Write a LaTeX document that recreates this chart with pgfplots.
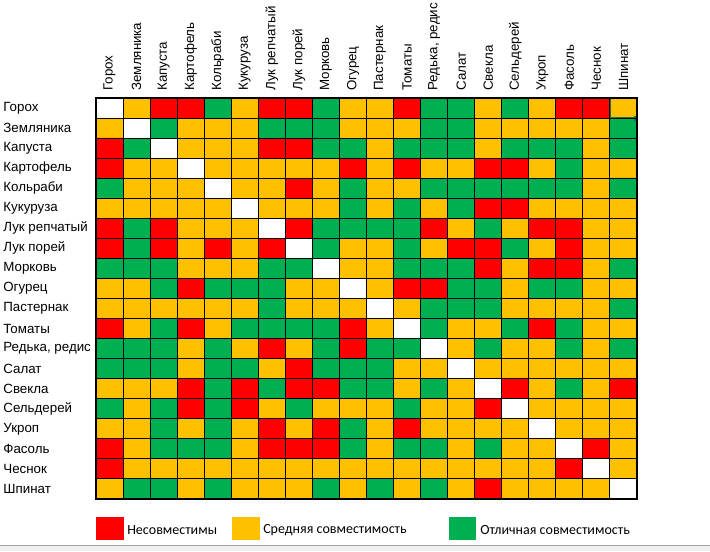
\documentclass[border=0pt]{standalone}
\usepackage{pgfplots}
\pgfplotsset{compat=1.18}
\usepackage{fontspec}
\setmainfont{Liberation Sans}
\newfontfamily\legfont{Carlito}
\definecolor{cR}{RGB}{255,0,0}
\definecolor{cY}{RGB}{255,192,0}
\definecolor{cG}{RGB}{0,176,80}
\definecolor{selG}{RGB}{33,115,70}
\begin{document}
\begin{tikzpicture}
\path[use as bounding box] (0pt,0pt) rectangle (532.5pt,413.25pt);
\fill[white] (0pt,0pt) rectangle (532.5pt,413.25pt);
\begin{axis}[
  at={(274.875pt,189.375pt)}, anchor=center,
  scale only axis, width=405.75pt, height=300.75pt,
  xmin=-0.5, xmax=19.5, ymin=-0.5, ymax=19.5, y dir=reverse,
  colormap={excel}{rgb255=(255,255,255) rgb255=(255,0,0) rgb255=(255,192,0) rgb255=(0,176,80)},
  colormap access=direct,
  xtick={0,...,19}, ytick={0,...,19},
  xticklabels={Горох,Земляника,Капуста,Картофель,Кольраби,Кукуруза,Лук репчатый,Лук порей,Морковь,Огурец,Пастернак,Томаты,{Редька, редис},Салат,Свекла,Сельдерей,Укроп,Фасоль,Чеснок,Шпинат},
  yticklabels={Горох,Земляника,Капуста,Картофель,Кольраби,Кукуруза,Лук репчатый,Лук порей,Морковь,Огурец,Пастернак,Томаты,{Редька, редис},Салат,Свекла,Сельдерей,Укроп,Фасоль,Чеснок,Шпинат},
  xticklabel pos=upper,
  major tick length=0pt, minor tick length=0pt,
  minor xtick={-0.5,0.5,...,19.5}, minor ytick={-0.5,0.5,...,19.5},
  xminorgrids, yminorgrids,
  minor grid style={black, line width=0.8pt},
  axis line style={black, line width=0.8pt},
  axis on top,
  ticklabel style={font=\fontsize{10}{12}\selectfont, text=black},
  xticklabel style={rotate=90, anchor=west, xshift=2pt},
  yticklabel style={anchor=west, xshift=-73pt},
]
\addplot[matrix plot*, mesh/cols=20, point meta=explicit] coordinates {
(0,0)[0] (1,0)[2] (2,0)[1] (3,0)[1] (4,0)[3] (5,0)[2] (6,0)[1] (7,0)[1] (8,0)[3] (9,0)[2] (10,0)[2] (11,0)[1] (12,0)[3] (13,0)[3] (14,0)[2] (15,0)[3] (16,0)[2] (17,0)[1] (18,0)[1] (19,0)[2]

(0,1)[2] (1,1)[0] (2,1)[3] (3,1)[2] (4,1)[2] (5,1)[2] (6,1)[3] (7,1)[3] (8,1)[3] (9,1)[2] (10,1)[2] (11,1)[2] (12,1)[3] (13,1)[3] (14,1)[2] (15,1)[2] (16,1)[2] (17,1)[2] (18,1)[2] (19,1)[3]

(0,2)[1] (1,2)[3] (2,2)[0] (3,2)[2] (4,2)[2] (5,2)[2] (6,2)[1] (7,2)[1] (8,2)[3] (9,2)[3] (10,2)[2] (11,2)[3] (12,2)[3] (13,2)[3] (14,2)[2] (15,2)[3] (16,2)[3] (17,2)[3] (18,2)[2] (19,2)[3]

(0,3)[1] (1,3)[2] (2,3)[2] (3,3)[0] (4,3)[2] (5,3)[2] (6,3)[2] (7,3)[2] (8,3)[2] (9,3)[1] (10,3)[2] (11,3)[1] (12,3)[2] (13,3)[2] (14,3)[1] (15,3)[1] (16,3)[2] (17,3)[3] (18,3)[2] (19,3)[2]

(0,4)[3] (1,4)[2] (2,4)[2] (3,4)[2] (4,4)[0] (5,4)[2] (6,4)[2] (7,4)[1] (8,4)[2] (9,4)[3] (10,4)[2] (11,4)[2] (12,4)[3] (13,4)[3] (14,4)[3] (15,4)[3] (16,4)[3] (17,4)[3] (18,4)[2] (19,4)[3]

(0,5)[2] (1,5)[2] (2,5)[2] (3,5)[2] (4,5)[2] (5,5)[0] (6,5)[2] (7,5)[2] (8,5)[2] (9,5)[3] (10,5)[2] (11,5)[3] (12,5)[2] (13,5)[3] (14,5)[1] (15,5)[1] (16,5)[2] (17,5)[2] (18,5)[2] (19,5)[2]

(0,6)[1] (1,6)[3] (2,6)[1] (3,6)[2] (4,6)[2] (5,6)[2] (6,6)[0] (7,6)[1] (8,6)[3] (9,6)[3] (10,6)[3] (11,6)[3] (12,6)[1] (13,6)[2] (14,6)[3] (15,6)[2] (16,6)[1] (17,6)[1] (18,6)[2] (19,6)[2]

(0,7)[1] (1,7)[3] (2,7)[1] (3,7)[2] (4,7)[1] (5,7)[2] (6,7)[1] (7,7)[0] (8,7)[3] (9,7)[2] (10,7)[2] (11,7)[3] (12,7)[2] (13,7)[1] (14,7)[1] (15,7)[3] (16,7)[2] (17,7)[1] (18,7)[2] (19,7)[2]

(0,8)[3] (1,8)[3] (2,8)[3] (3,8)[2] (4,8)[2] (5,8)[2] (6,8)[3] (7,8)[3] (8,8)[0] (9,8)[2] (10,8)[2] (11,8)[3] (12,8)[3] (13,8)[3] (14,8)[1] (15,8)[2] (16,8)[1] (17,8)[1] (18,8)[2] (19,8)[3]

(0,9)[2] (1,9)[2] (2,9)[3] (3,9)[1] (4,9)[3] (5,9)[3] (6,9)[3] (7,9)[2] (8,9)[2] (9,9)[0] (10,9)[2] (11,9)[1] (12,9)[1] (13,9)[3] (14,9)[3] (15,9)[2] (16,9)[3] (17,9)[3] (18,9)[2] (19,9)[2]

(0,10)[2] (1,10)[2] (2,10)[2] (3,10)[2] (4,10)[2] (5,10)[2] (6,10)[3] (7,10)[2] (8,10)[2] (9,10)[2] (10,10)[0] (11,10)[2] (12,10)[3] (13,10)[3] (14,10)[3] (15,10)[2] (16,10)[2] (17,10)[2] (18,10)[2] (19,10)[3]

(0,11)[1] (1,11)[2] (2,11)[3] (3,11)[1] (4,11)[2] (5,11)[3] (6,11)[3] (7,11)[3] (8,11)[3] (9,11)[1] (10,11)[2] (11,11)[0] (12,11)[3] (13,11)[2] (14,11)[2] (15,11)[3] (16,11)[1] (17,11)[3] (18,11)[2] (19,11)[2]

(0,12)[3] (1,12)[3] (2,12)[3] (3,12)[2] (4,12)[3] (5,12)[2] (6,12)[1] (7,12)[2] (8,12)[3] (9,12)[1] (10,12)[3] (11,12)[3] (12,12)[0] (13,12)[2] (14,12)[3] (15,12)[2] (16,12)[2] (17,12)[3] (18,12)[2] (19,12)[3]

(0,13)[3] (1,13)[3] (2,13)[3] (3,13)[2] (4,13)[3] (5,13)[3] (6,13)[2] (7,13)[1] (8,13)[3] (9,13)[3] (10,13)[3] (11,13)[2] (12,13)[2] (13,13)[0] (14,13)[2] (15,13)[2] (16,13)[2] (17,13)[2] (18,13)[2] (19,13)[2]

(0,14)[2] (1,14)[2] (2,14)[2] (3,14)[1] (4,14)[3] (5,14)[1] (6,14)[3] (7,14)[1] (8,14)[1] (9,14)[3] (10,14)[3] (11,14)[2] (12,14)[3] (13,14)[2] (14,14)[0] (15,14)[1] (16,14)[2] (17,14)[3] (18,14)[2] (19,14)[1]

(0,15)[3] (1,15)[2] (2,15)[3] (3,15)[1] (4,15)[3] (5,15)[1] (6,15)[2] (7,15)[3] (8,15)[2] (9,15)[2] (10,15)[2] (11,15)[3] (12,15)[2] (13,15)[2] (14,15)[1] (15,15)[0] (16,15)[2] (17,15)[2] (18,15)[2] (19,15)[2]

(0,16)[2] (1,16)[2] (2,16)[3] (3,16)[2] (4,16)[3] (5,16)[2] (6,16)[1] (7,16)[2] (8,16)[1] (9,16)[3] (10,16)[2] (11,16)[1] (12,16)[2] (13,16)[2] (14,16)[2] (15,16)[2] (16,16)[0] (17,16)[2] (18,16)[2] (19,16)[2]

(0,17)[1] (1,17)[2] (2,17)[3] (3,17)[3] (4,17)[3] (5,17)[2] (6,17)[1] (7,17)[1] (8,17)[1] (9,17)[3] (10,17)[2] (11,17)[3] (12,17)[3] (13,17)[2] (14,17)[3] (15,17)[2] (16,17)[2] (17,17)[0] (18,17)[1] (19,17)[2]

(0,18)[1] (1,18)[2] (2,18)[2] (3,18)[2] (4,18)[2] (5,18)[2] (6,18)[2] (7,18)[2] (8,18)[2] (9,18)[2] (10,18)[2] (11,18)[2] (12,18)[2] (13,18)[2] (14,18)[2] (15,18)[2] (16,18)[2] (17,18)[1] (18,18)[0] (19,18)[2]

(0,19)[2] (1,19)[3] (2,19)[3] (3,19)[2] (4,19)[3] (5,19)[2] (6,19)[2] (7,19)[2] (8,19)[3] (9,19)[2] (10,19)[3] (11,19)[2] (12,19)[3] (13,19)[2] (14,19)[1] (15,19)[2] (16,19)[2] (17,19)[2] (18,19)[2] (19,19)[0]
};
\draw[selG, line width=1.5pt] (axis cs:18.5,-0.5) rectangle (axis cs:19.5,0.5);
\fill[selG] (axis cs:19.5,0.5) ++(-2pt,-2pt) rectangle ++(3.5pt,3.5pt);
\end{axis}
% legend
\begin{scope}[x=0.75pt,y=0.75pt]
\fill[cR] (96,11) rectangle (124,34);
\node[anchor=west, inner sep=0pt, font=\legfont\fontsize{10.5}{12}\selectfont] at (127,21) {Несовместимы};
\fill[cY] (232,11) rectangle (260,34);
\node[anchor=west, inner sep=0pt, font=\legfont\fontsize{10.5}{12}\selectfont] at (263,21) {Средняя совместимость};
\fill[cG] (449,11) rectangle (476,34);
\node[anchor=west, inner sep=0pt, font=\legfont\fontsize{10.5}{12}\selectfont] at (480,21) {Отличная совместимость};
\fill[black!6] (0,0) rectangle (710,6);
\draw[black!35] (0,6) -- (710,6);
\end{scope}
\end{tikzpicture}
\end{document}
